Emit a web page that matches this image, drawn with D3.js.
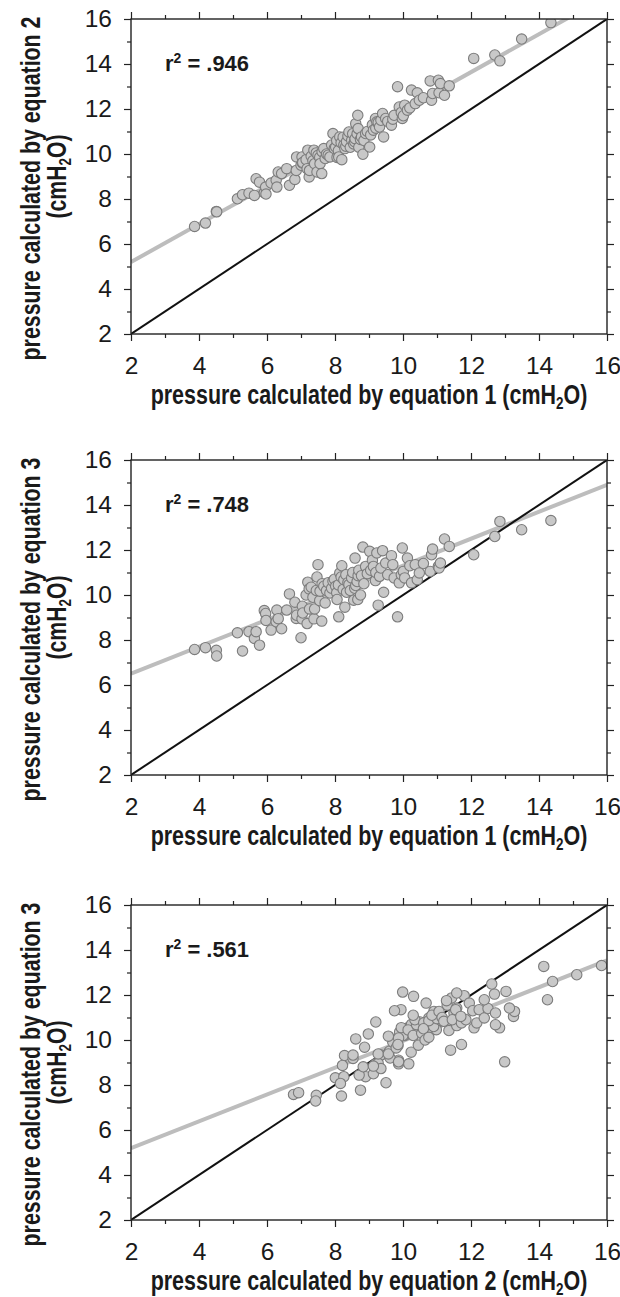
<!DOCTYPE html>
<html>
<head>
<meta charset="utf-8">
<script src="https://cdn.jsdelivr.net/npm/d3@7"></script>
<style>
  body { margin: 0; background: #fff; }
  svg { display: block; }
  .tick text { font-family: 'Liberation Sans', Arial, sans-serif; }
  .title { font-family: 'Liberation Sans', Arial, sans-serif; font-weight: bold; fill: #1a1a1a; }
</style>
</head>
<body>
<svg id="chart" width="620" height="1297"></svg>
<script>
// values, one entry per subject
var eq1 = [3.87, 4.19, 4.51, 4.52, 5.13, 5.28, 5.47, 5.63, 5.68, 5.78, 5.92, 5.96, 5.97, 6.12, 6.27, 6.29, 6.33, 6.43, 6.58, 6.66,
  6.82, 6.86, 6.87, 7.00, 7.03, 7.04, 7.05, 7.15, 7.18, 7.20, 7.24, 7.25, 7.30, 7.35, 7.38, 7.40, 7.45, 7.47, 7.50, 7.55,
  7.56, 7.61, 7.62, 7.67, 7.71, 7.75, 7.80, 7.85, 7.90, 7.94, 7.98, 8.02, 8.05, 8.06, 8.10, 8.11, 8.14, 8.18, 8.20, 8.24,
  8.26, 8.29, 8.32, 8.34, 8.38, 8.41, 8.45, 8.49, 8.52, 8.55, 8.58, 8.59, 8.61, 8.65, 8.67, 8.68, 8.70, 8.75, 8.78, 8.82,
  8.85, 8.90, 8.95, 9.02, 9.05, 9.10, 9.13, 9.19, 9.20, 9.23, 9.27, 9.31, 9.35, 9.40, 9.43, 9.49, 9.55, 9.66, 9.70, 9.74,
  9.84, 9.89, 9.95, 9.98, 10.01, 10.05, 10.13, 10.20, 10.25, 10.36, 10.42, 10.48, 10.60, 10.80, 10.84, 10.87, 11.04, 11.06, 11.10, 11.22,
  11.36, 12.08, 12.70, 12.85, 13.49, 14.35];
var eq2 = [6.78, 6.93, 7.45, 7.43, 8.01, 8.19, 8.26, 8.16, 8.90, 8.75, 8.28, 8.53, 8.22, 8.71, 8.83, 8.53, 9.20, 9.13, 9.35, 8.61,
  8.87, 9.27, 9.87, 9.50, 9.87, 9.60, 9.62, 9.75, 9.35, 10.17, 8.98, 9.27, 9.90, 9.70, 10.17, 9.57, 10.05, 9.20, 9.94, 9.85,
  9.57, 9.13, 10.10, 10.24, 9.80, 10.00, 9.95, 9.87, 10.40, 10.91, 10.25, 10.31, 10.60, 9.85, 10.15, 9.87, 10.76, 10.50, 9.75, 10.75,
  10.40, 10.24, 10.35, 10.55, 10.80, 10.98, 10.30, 10.61, 10.90, 10.45, 10.55, 10.68, 11.35, 10.90, 11.72, 11.13, 10.30, 10.65, 10.76, 9.99,
  10.60, 10.91, 11.00, 10.31, 10.85, 11.30, 11.06, 11.58, 11.15, 11.43, 11.40, 11.20, 11.50, 11.80, 10.76, 11.58, 11.45, 11.28, 11.55, 11.72,
  12.99, 12.09, 11.85, 11.58, 11.70, 12.17, 11.95, 12.05, 12.84, 12.24, 12.72, 12.39, 12.50, 13.25, 12.39, 12.69, 13.28, 12.72, 13.13, 12.61,
  13.03, 14.25, 14.40, 14.14, 15.11, 15.84];
var eq3 = [7.58, 7.66, 7.54, 7.29, 8.32, 7.51, 8.37, 8.07, 8.37, 7.77, 9.31, 9.18, 8.87, 8.44, 8.81, 9.33, 8.95, 8.50, 9.33, 10.05,
  9.68, 8.96, 9.10, 8.10, 8.94, 9.50, 9.20, 10.00, 8.73, 10.57, 10.27, 9.38, 10.35, 9.90, 8.94, 9.38, 10.20, 10.80, 11.35, 9.75,
  10.17, 8.84, 10.50, 10.39, 9.65, 10.20, 10.55, 10.09, 10.30, 10.61, 10.70, 10.39, 10.10, 9.80, 10.45, 9.03, 10.98, 10.80, 11.30, 10.25,
  10.68, 9.46, 10.90, 10.12, 10.55, 10.46, 10.20, 10.76, 11.00, 9.77, 10.30, 11.64, 10.42, 10.60, 9.80, 10.86, 11.10, 10.00, 10.86, 12.13,
  10.50, 11.27, 10.95, 11.94, 11.10, 11.55, 11.27, 10.64, 11.00, 11.87, 9.55, 10.83, 11.20, 11.97, 10.12, 11.42, 10.90, 11.75, 11.35, 10.76,
  9.03, 10.54, 10.90, 12.09, 11.05, 10.76, 11.64, 11.30, 10.54, 11.35, 10.68, 10.98, 11.40, 11.05, 11.79, 12.04, 11.27, 11.20, 11.42, 12.49,
  12.16, 11.79, 12.60, 13.27, 12.90, 13.31];

var majorTicks = [2, 4, 6, 8, 10, 12, 14, 16];
var minorTicks = [3, 5, 7, 9, 11, 13, 15];
var domain = [2, 16];

// regression lines [intercept, slope]
var fit12 = [3.51, 0.844];
var fit13 = [5.30, 0.600];
var fit23 = [4.00, 0.596];
var r2Labels = ['.946', '.748', '.561'];

var panels = [
  {xs: eq1, ys: eq2, fit: fit12, r2: r2Labels[0], xEq: '1', yEq: '2', top: 19},
  {xs: eq1, ys: eq3, fit: fit13, r2: r2Labels[1], xEq: '1', yEq: '3', top: 460},
  {xs: eq2, ys: eq3, fit: fit23, r2: r2Labels[2], xEq: '2', yEq: '3', top: 905}
];

var svg = d3.select('#chart'),
  left = 131,
  width = 476,
  height = 315;

var x = d3.scaleLinear().domain(domain).range([0, width]);
var y = d3.scaleLinear().domain(domain).range([height, 0]);

function styleAxis(sel) {
  sel.select('.domain').remove();
  sel.selectAll('.tick line').attr('stroke', '#222').attr('stroke-width', 1.2);
  sel.selectAll('.tick text').attr('fill', '#1a1a1a').style('font-size', '24.5px');
}

// bold titles are narrow and tall in the picture: a big font squeezed sideways to the measured width
function squeeze(text, len, tx, ty, rot) {
  var natural = text.node().getBBox().width;
  text.attr('transform', 'translate(' + tx + ',' + ty + ')' + (rot ? ' rotate(' + rot + ')' : '') +
    ' scale(' + (len / natural) + ',1)');
  return text;
}

function subscripted(g, before, after, size) {
  var t = g.append('text')
    .attr('class', 'title')
    .attr('text-anchor', 'middle')
    .style('font-size', size + 'px');
  t.append('tspan').text(before);
  t.append('tspan').attr('dy', 5).style('font-size', Math.round(size * 0.63) + 'px').text('2');
  t.append('tspan').attr('dy', -5).text(after);
  return t;
}

panels.forEach(function (p, i) {
  var g = svg.append('g').attr('transform', 'translate(' + left + ',' + p.top + ')');

  g.append('defs').append('clipPath')
    .attr('id', 'clip' + i)
    .append('rect')
    .attr('width', width)
    .attr('height', height);

  // minor ticks on all four sides
  g.append('g').attr('transform', 'translate(0,' + height + ')')
    .call(d3.axisBottom(x).tickValues(minorTicks).tickSize(4).tickFormat(''))
    .call(styleAxis);
  g.append('g')
    .call(d3.axisTop(x).tickValues(minorTicks).tickSize(4).tickFormat(''))
    .call(styleAxis);
  g.append('g')
    .call(d3.axisLeft(y).tickValues(minorTicks).tickSize(4).tickFormat(''))
    .call(styleAxis);
  g.append('g').attr('transform', 'translate(' + width + ',0)')
    .call(d3.axisRight(y).tickValues(minorTicks).tickSize(4).tickFormat(''))
    .call(styleAxis);

  // major ticks, labels on bottom and left only
  g.append('g').attr('transform', 'translate(0,' + height + ')')
    .call(d3.axisBottom(x).tickValues(majorTicks).tickSize(7).tickPadding(16))
    .call(styleAxis);
  g.append('g')
    .call(d3.axisTop(x).tickValues(majorTicks).tickSize(7).tickFormat(''))
    .call(styleAxis);
  g.append('g')
    .call(d3.axisLeft(y).tickValues(majorTicks).tickSize(7).tickPadding(12))
    .call(styleAxis);
  g.append('g').attr('transform', 'translate(' + width + ',0)')
    .call(d3.axisRight(y).tickValues(majorTicks).tickSize(7).tickFormat(''))
    .call(styleAxis);

  var plot = g.append('g').attr('clip-path', 'url(#clip' + i + ')');

  // grey regression line
  plot.append('line')
    .attr('x1', x(domain[0]))
    .attr('y1', y(p.fit[0] + p.fit[1] * domain[0]))
    .attr('x2', x(domain[1]))
    .attr('y2', y(p.fit[0] + p.fit[1] * domain[1]))
    .attr('stroke', '#bdbdbd')
    .attr('stroke-width', 4);

  // line of identity
  plot.append('line')
    .attr('x1', x(domain[0]))
    .attr('y1', y(domain[0]))
    .attr('x2', x(domain[1]))
    .attr('y2', y(domain[1]))
    .attr('stroke', '#111')
    .attr('stroke-width', 2);

  plot.selectAll('circle')
    .data(p.xs.map(function (v, k) { return [v, p.ys[k]]; }))
    .enter().append('circle')
    .attr('cx', function (d) { return x(d[0]); })
    .attr('cy', function (d) { return y(d[1]); })
    .attr('r', 5.2)
    .attr('fill', '#c8c8c8')
    .attr('stroke', '#7c7c7c')
    .attr('stroke-width', 1.1);

  // frame
  g.append('rect')
    .attr('width', width)
    .attr('height', height)
    .attr('fill', 'none')
    .attr('stroke', '#222')
    .attr('stroke-width', 1.4);

  // r squared
  var r = g.append('text')
    .attr('class', 'title')
    .style('font-size', '22px');
  r.append('tspan').text('r');
  r.append('tspan').attr('dy', -8).style('font-size', '14px').text('2');
  r.append('tspan').attr('dy', 8).text(' = ' + p.r2);
  squeeze(r, 84, x(3.0), y(13.7));

  // x title
  squeeze(subscripted(g, 'pressure calculated by equation ' + p.xEq + ' (cmH', 'O)', 27),
    437, width / 2, height + 70);

  // y title, two lines
  var yt1 = g.append('text')
    .attr('class', 'title')
    .attr('text-anchor', 'middle')
    .style('font-size', '27px')
    .text('pressure calculated by equation ' + p.yEq);
  squeeze(yt1, 344, 40 - left, height / 2 + 12, -90);
  squeeze(subscripted(g, '(cmH', 'O)', 27), 84, 66 - left, height / 2, -90);
});
</script>
</body>
</html>
